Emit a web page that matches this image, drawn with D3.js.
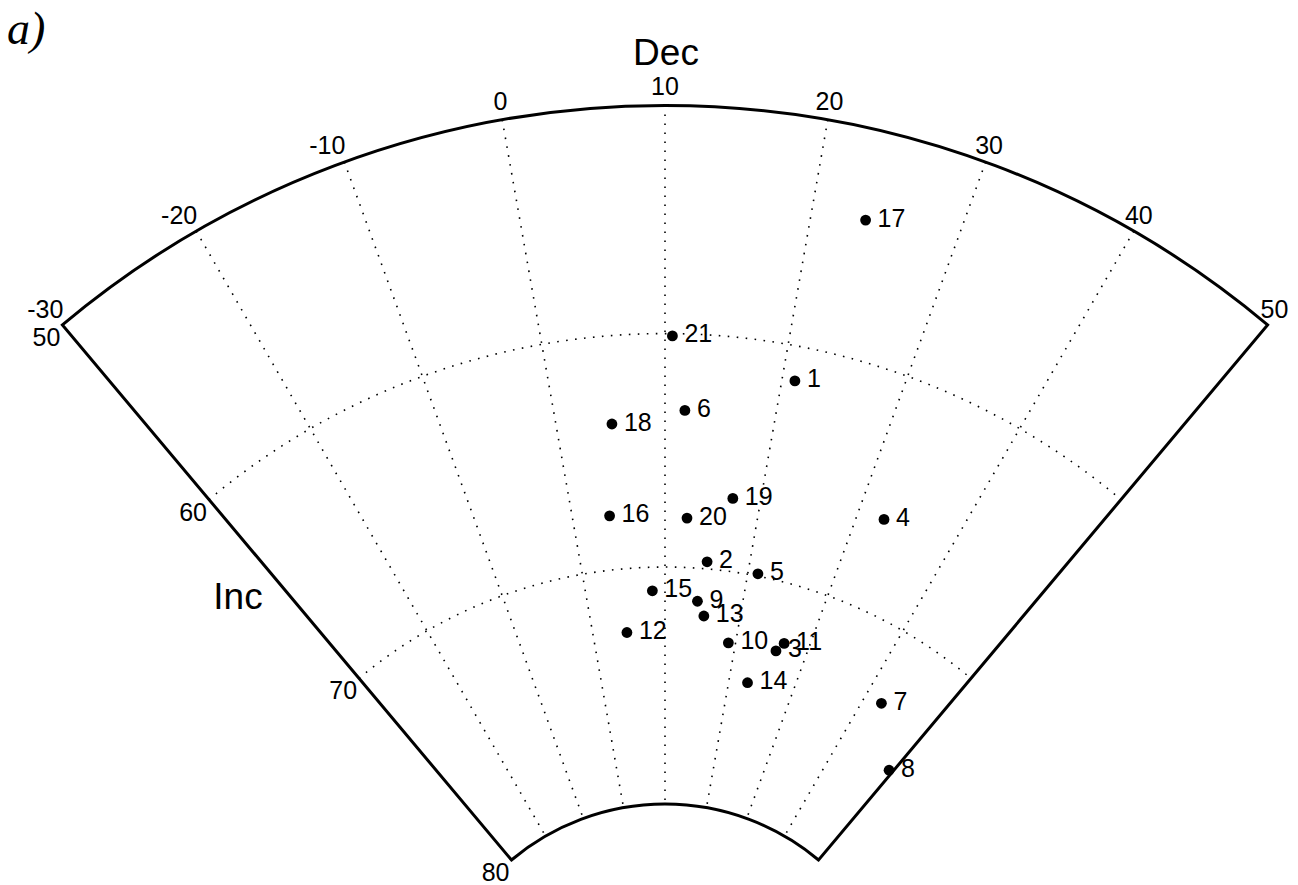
<!DOCTYPE html>
<html>
<head>
<meta charset="utf-8">
<script src="https://cdn.jsdelivr.net/npm/d3@7"></script>
<style>
  html, body { margin: 0; padding: 0; background: #fff; }
  svg { display: block; }
  text { font-family: "Liberation Sans", Arial, Helvetica, sans-serif; fill: #000; }
</style>
</head>
<body>
<svg id="chart" width="1298" height="885"></svg>
<script>
// ---- data ----
const sampleIds = ["1","2","3","4","5","6","7","8","9","10","11","12","13","14","15","16","17","18","19","20","21"];
const decValues = [21.1, 15.0, 25.8, 32.7, 21.2, 11.8, 42.5, 49.4, 14.2, 19.0, 26.6, 4.7, 15.2, 22.9, 8.4, 4.0, 23.7, 5.1, 17.1, 12.4, 10.6];
const incValues = [61.5, 69.7, 72.9, 66.1, 69.9, 63.3, 73.1, 75.2, 71.4, 73.0, 72.5, 72.7, 72.0, 74.5, 71.0, 67.7, 54.0, 63.8, 66.9, 67.9, 60.1];
const decTicks = [-30, -20, -10, 0, 10, 20, 30, 40, 50];
const incTicks = [50, 60, 70, 80];
const decTitle = "Dec";
const incTitle = "Inc";
const panelLabel = "a)";

// ---- geometry ----
const svg = d3.select("#chart");
const cx = 665, cy = 1043;
const toRad = d => d * Math.PI / 180;
const decMin = d3.min(decTicks), decMax = d3.max(decTicks);
const incMin = d3.min(incTicks), incMax = d3.max(incTicks);

// Dec -> angle (radians, 0 = up, clockwise)
const angle = d3.scaleLinear().domain([decMin, decMax]).range([toRad(-40), toRad(40)]);
// Inc -> radius (equal-area: r proportional to sin((90-Inc)/2))
const eaScale = d3.scaleLinear().domain([0, 1]).range([0, 2741]);
const radius = inc => eaScale(Math.sin(toRad(90 - inc) / 2));
const px = (dec, inc) => cx + radius(inc) * Math.sin(angle(dec));
const py = (dec, inc) => cy - radius(inc) * Math.cos(angle(dec));

const g = svg.append("g");

// dotted grid: radial lines
const gridDec = decTicks.filter(d => d !== decMin && d !== decMax);
g.selectAll("line.rgrid").data(gridDec).enter().append("line")
  .attr("class", "rgrid")
  .attr("x1", d => px(d, incMin)).attr("y1", d => py(d, incMin))
  .attr("x2", d => px(d, incMax)).attr("y2", d => py(d, incMax))
  .attr("stroke", "#000").attr("stroke-width", 1.6)
  .attr("stroke-dasharray", "1.6,7.4");

// dotted grid: arcs
const gridInc = incTicks.filter(d => d !== incMin && d !== incMax);
g.selectAll("path.agrid").data(gridInc).enter().append("path")
  .attr("class", "agrid")
  .attr("d", d => {
    const p = d3.path();
    const r = radius(d);
    const a0 = angle(decMin) - Math.PI / 2, a1 = angle(decMax) - Math.PI / 2;
    p.moveTo(cx + r * Math.cos(a0), cy + r * Math.sin(a0));
    p.arc(cx, cy, r, a0, a1);
    return p.toString();
  })
  .attr("fill", "none")
  .attr("stroke", "#000").attr("stroke-width", 1.6)
  .attr("stroke-dasharray", "1.6,7.4");

// frame
const frame = d3.arc()
  .innerRadius(radius(incMax)).outerRadius(radius(incMin))
  .startAngle(angle(decMin)).endAngle(angle(decMax));
g.append("path")
  .attr("transform", `translate(${cx},${cy})`)
  .attr("d", frame())
  .attr("fill", "none").attr("stroke", "#000").attr("stroke-width", 3)
  .attr("stroke-linejoin", "miter");

// Dec tick labels
g.selectAll("text.dec").data(decTicks).enter().append("text")
  .attr("class", "dec")
  .attr("x", d => d < 0 ? px(d, incMin) + 1 : px(d, incMin) + 0.17 * (d - 10))
  .attr("y", d => {
    const th = Math.abs(d - 10);
    return py(d, incMin) - (7 + 4 * Math.max(0, 1 - th / 30));
  })
  .attr("text-anchor", d => d < 0 ? "end" : "middle")
  .attr("font-size", 25)
  .text(d => d);

// Inc tick labels (left edge)
g.selectAll("text.inc").data(incTicks).enter().append("text")
  .attr("class", "inc")
  .attr("x", d => px(decMin, d) - 2)
  .attr("y", d => py(decMin, d) + 21)
  .attr("text-anchor", "end")
  .attr("font-size", 25)
  .text(d => d);

// axis titles
g.append("text").attr("x", 666).attr("y", 65).attr("text-anchor", "middle")
  .attr("font-size", 37).text(decTitle);
g.append("text").attr("x", 238).attr("y", 609).attr("text-anchor", "middle")
  .attr("font-size", 37).text(incTitle);

// panel label
svg.append("text").attr("x", 7).attr("y", 44)
  .style("font-family", "'Liberation Serif', 'Times New Roman', serif")
  .style("font-style", "italic")
  .attr("font-size", 46).text(panelLabel);

// points
const pts = sampleIds.map((id, i) => ({ id, dec: decValues[i], inc: incValues[i] }));
g.selectAll("circle.pt").data(pts).enter().append("circle")
  .attr("class", "pt")
  .attr("cx", d => px(d.dec, d.inc)).attr("cy", d => py(d.dec, d.inc))
  .attr("r", 5.4).attr("fill", "#000");
g.selectAll("text.pl").data(pts).enter().append("text")
  .attr("class", "pl")
  .attr("x", d => px(d.dec, d.inc) + 12).attr("y", d => py(d.dec, d.inc) + 6.5)
  .attr("font-size", 25)
  .text(d => d.id);
</script>
</body>
</html>
